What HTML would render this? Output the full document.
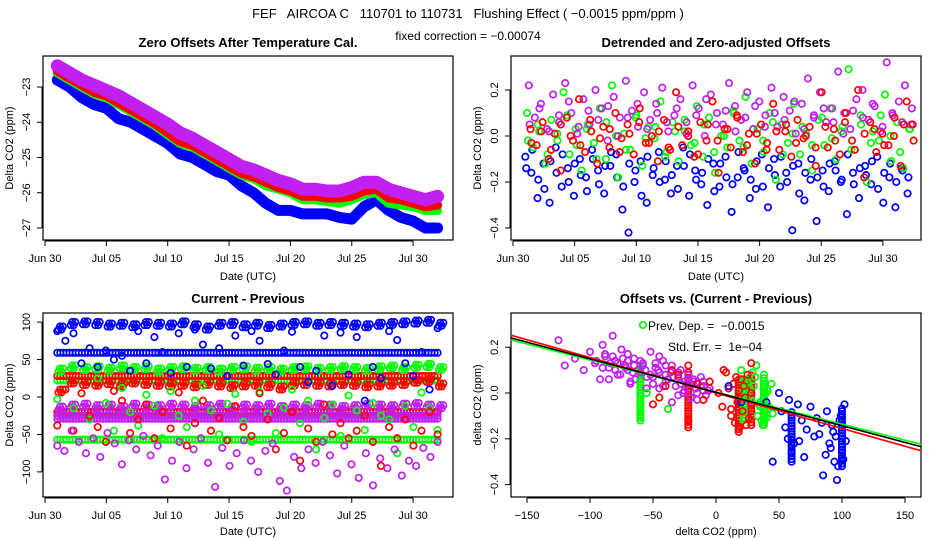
<!DOCTYPE html>
<html><head><meta charset="utf-8"><style>
body{margin:0;background:#fff;}
svg{display:block;font-family:"Liberation Sans",sans-serif;}
text{white-space:pre;}
</style></head><body>
<svg id="s" width="936" height="540" viewBox="0 0 936 540">
<rect width="936" height="540" fill="#fff"/>
<text x="468" y="18" text-anchor="middle" font-size="13">FEF   AIRCOA C   110701 to 110731   Flushing Effect ( −0.0015 ppm/ppm )</text>
<text x="468" y="40" text-anchor="middle" font-size="12">fixed correction = −0.00074</text>
<text x="248" y="47" text-anchor="middle" font-size="13" font-weight="bold">Zero Offsets After Temperature Cal.</text>
<text x="716" y="47" text-anchor="middle" font-size="13" font-weight="bold">Detrended and Zero-adjusted Offsets</text>
<text x="248" y="303" text-anchor="middle" font-size="13" font-weight="bold">Current - Previous</text>
<text x="716" y="303" text-anchor="middle" font-size="13" font-weight="bold">Offsets vs. (Current - Previous)</text>
<g id="g1"></g>
<g id="g2"></g>
<g id="g3"></g>
<g id="g4"></g>
</svg>
<script>
// ---------- data ----------
const p1Days=[1,2,3,4,5,6,7,8,9,10,11,12,13,14,15,16,17,18,19,20,21,22,23,24,25,26,27,28,29,30,31,32];
const p1Blue=[-22.8,-23.0,-23.3,-23.5,-23.6,-23.9,-24.0,-24.2,-24.4,-24.6,-24.9,-25.0,-25.2,-25.4,-25.5,-25.8,-26.0,-26.3,-26.5,-26.5,-26.6,-26.6,-26.6,-26.7,-26.75,-26.4,-26.2,-26.5,-26.7,-26.8,-27.0,-27.0];
const p1Green=[-22.6,-22.8,-23.0,-23.2,-23.3,-23.5,-23.7,-23.9,-24.1,-24.35,-24.6,-24.7,-24.9,-25.1,-25.3,-25.5,-25.6,-25.8,-25.9,-26.0,-26.2,-26.2,-26.25,-26.3,-26.2,-26.05,-26.0,-26.3,-26.35,-26.4,-26.5,-26.5];
const p1Red=[-22.55,-22.75,-22.95,-23.15,-23.25,-23.45,-23.65,-23.85,-24.05,-24.3,-24.55,-24.65,-24.85,-25.05,-25.25,-25.45,-25.55,-25.7,-25.85,-25.95,-26.1,-26.1,-26.15,-26.15,-26.1,-25.95,-25.9,-26.15,-26.2,-26.3,-26.4,-26.35];
const p1Purple=[-22.4,-22.6,-22.8,-22.95,-23.1,-23.25,-23.45,-23.65,-23.85,-24.05,-24.3,-24.45,-24.65,-24.85,-25.05,-25.25,-25.35,-25.5,-25.65,-25.75,-25.9,-25.9,-25.95,-25.95,-25.85,-25.7,-25.7,-25.9,-26.0,-26.1,-26.2,-26.1];

const p2Blue=[-0.09,-0.16,-0.27,-0.12,-0.29,-0.05,-0.22,-0.14,-0.26,-0.10,-0.18,-0.06,-0.15,-0.25,-0.13,-0.08,-0.32,-0.42,-0.20,-0.11,-0.29,-0.17,-0.07,-0.19,-0.25,-0.13,-0.05,-0.26,-0.15,-0.21,-0.30,-0.12,-0.22,-0.09,-0.33,-0.18,-0.14,-0.27,-0.23,-0.08,-0.31,-0.10,-0.22,-0.16,-0.41,-0.12,-0.28,-0.19,-0.37,-0.15,-0.24,-0.11,-0.20,-0.34,-0.16,-0.27,-0.13,-0.21,-0.09,-0.29,-0.18,-0.31,-0.14,-0.25];
const p2Blue2=[-0.14,-0.06,-0.19,-0.23,-0.11,-0.16,-0.08,-0.20,-0.12,-0.17,-0.24,-0.10,-0.21,-0.13,-0.07,-0.18,-0.22,-0.12,-0.15,-0.26,-0.09,-0.14,-0.20,-0.11,-0.17,-0.23,-0.13,-0.08,-0.19,-0.16,-0.10,-0.24,-0.12,-0.18,-0.21,-0.07,-0.15,-0.19,-0.11,-0.22,-0.14,-0.17,-0.09,-0.20,-0.13,-0.25,-0.16,-0.10,-0.18,-0.22,-0.12,-0.15,-0.19,-0.08,-0.21,-0.14,-0.17,-0.11,-0.23,-0.16,-0.12,-0.20,-0.15,-0.18];
const p2Green=[0.10,-0.05,0.02,-0.12,0.07,-0.02,0.19,-0.08,0.03,-0.15,0.05,-0.03,0.12,-0.10,0.22,-0.18,0.01,-0.06,0.09,-0.13,0.04,-0.01,0.15,-0.07,0.06,-0.11,0.02,-0.04,0.13,-0.09,0.08,-0.16,0.00,-0.05,0.11,-0.02,0.17,-0.12,0.03,-0.07,0.10,-0.19,0.05,-0.03,0.14,-0.08,0.01,-0.15,0.07,-0.04,0.12,-0.10,0.04,0.29,-0.06,0.09,-0.20,0.02,-0.02,0.18,-0.11,0.06,-0.14,0.03];
const p2Green2=[-0.02,0.05,-0.08,0.01,0.09,-0.04,0.03,-0.10,0.06,0.00,-0.06,0.08,-0.01,0.04,-0.09,0.02,0.07,-0.03,0.05,-0.07,0.00,0.10,-0.05,0.03,-0.02,0.06,-0.08,0.01,0.04,-0.04,0.08,-0.01,0.02,-0.06,0.05,-0.03,0.09,0.00,-0.07,0.03];
const p2Red=[0.03,-0.04,0.06,-0.10,0.01,-0.15,0.08,-0.02,0.16,-0.07,0.02,-0.12,0.04,-0.05,0.10,-0.01,0.05,-0.08,0.12,-0.03,0.00,-0.11,0.07,-0.06,0.19,-0.04,0.02,-0.09,0.06,-0.02,0.15,-0.16,0.03,-0.05,0.09,-0.07,0.01,-0.12,0.05,-0.03,0.14,-0.06,0.02,-0.09,0.07,-0.01,0.04,-0.13,0.19,-0.05,0.03,-0.08,0.10,-0.02,0.20,-0.18,0.06,-0.07,0.01,-0.04,0.08,-0.13,0.15,0.05];
const p2Red2=[-0.03,0.02,-0.06,0.05,0.00,-0.04,0.07,-0.01,0.03,-0.07,0.01,0.06,-0.03,0.02,-0.05,0.04,0.00,-0.08,0.05,-0.02,0.03,0.08,-0.04,0.01,-0.06,0.02,0.05,-0.03,0.00,-0.05,0.04,-0.02,0.06,-0.06,0.01,0.03,-0.04,0.00,0.05,-0.02];
const p2Purple=[0.22,0.08,0.14,0.03,0.18,0.06,0.23,0.10,0.01,0.16,0.05,0.20,0.12,-0.02,0.17,0.08,0.24,0.11,0.04,0.19,0.07,0.14,0.21,0.02,0.09,0.16,0.06,0.22,0.12,0.00,0.18,0.10,0.05,0.23,0.13,0.07,0.19,0.03,0.15,0.09,0.21,0.04,0.17,0.11,0.01,0.14,0.25,0.08,0.19,0.06,0.12,0.28,0.10,0.03,0.16,0.20,0.07,0.13,0.02,0.32,0.09,0.15,0.22,0.05];
const p2Purple2=[0.05,0.12,0.02,0.09,0.15,0.04,0.11,0.07,0.13,0.00,0.08,0.14,0.03,0.10,0.06,0.12,0.01,0.09,0.16,0.05,0.11,0.02,0.08,0.13,0.04,0.10,0.07,0.15,0.03,0.09,0.12,0.06,0.01,0.11,0.08,0.14,0.04,0.10,0.06,0.12];

const p3LineLevels=[59,22,-57,28,-20,-25,-29];
const p3LineColors=["#0000ff","#00ff00","#00ff00","#ff0000","#ff0000","#c020f0","#c020f0"];
const p3BlueDaily=[92,98,99,98,96,97,95,98,97,96,99,95,92,97,98,95,97,94,96,98,99,97,98,97,96,95,97,98,99,100,101,97];
const p3GreenDaily=[36,40,38,39,37,40,38,39,36,38,39,37,38,36,38,39,37,38,36,38,39,37,38,39,38,37,39,40,38,41,42,38];
const p3RedDaily=[8,20,18,17,19,16,20,18,17,16,17,15,18,16,14,16,17,15,12,17,18,17,16,18,17,15,16,17,18,21,22,16];
const p3PurpleDaily=[-15,-12,-11,-13,-12,-14,-11,-12,-13,-11,-12,-14,-13,-11,-15,-12,-13,-11,-14,-12,-13,-11,-12,-14,-13,-11,-12,-13,-11,-10,-12,-13];
const p3BlueScatter=[88,75,85,45,65,40,62,50,55,35,88,45,80,60,32,85,40,90,70,38,65,28,82,42,88,75,44,30,62,87,40,20,35,82,15,86,30,80,-5,40,25,88,76,45,28,60,10,92];
const p3GreenScatter=[-3,10,-15,5,-30,25,-8,-45,12,-20,-38,3,-12,-55,8,-25,-40,-5,15,-18,-50,-9,4,-33,-60,7,-22,-48,-14,10,-35,-5,-70,-28,-10,-52,2,-18,-44,-8,-25,-30,-75,-12,-40,6,-15,-44];
const p3RedScatter=[-38,10,-45,5,-25,-40,-60,8,-5,-48,-30,-10,-55,-20,-42,6,-65,-35,-5,-45,-28,-58,-12,-40,-52,5,-30,-70,-48,-20,-85,-42,-60,-10,-50,-35,-55,-45,-25,-60,-92,-40,-55,-30,-65,-45,-20,-50];
const p3PurpleScatter=[-65,-72,-45,-60,-75,-55,-80,-48,-62,-90,-58,-70,-52,-78,-65,-110,-85,-60,-95,-70,-55,-88,-120,-68,-92,-75,-58,-85,-100,-72,-62,-112,-125,-80,-95,-70,-88,-60,-78,-102,-65,-90,-108,-75,-118,-82,-95,-70,-105,-85,-92,-68,-80,-60];

const p4PurpleX=[-125,-120,-112,-105,-100,-96,-92,-90,-88,-85,-82,-80,-78,-75,-72,-70,-68,-65,-62,-60,-58,-55,-52,-50,-48,-45,-42,-40,-38,-35,-32,-30,-28,-25,-22,-20,-18,-15,-12,-10,-8,-5,-85,-75,-65,-55,-45,-35,-25,-15,-95,-70,-50,-30,-10,-40,-80,-60,-20,-30,-45,-88,-78,-72,-66,-58,-52,-46,-40,-34,-28,-22,-16,-10,-82,-76,-70,-64,-56,-48,-42,-36,-26,-18,-12,-6,-90,-84,-74,-68];
const p4PurpleY=[0.23,0.12,0.15,0.10,0.18,0.13,0.06,0.21,0.16,0.11,0.25,0.14,0.08,0.19,0.12,0.17,0.05,0.15,0.10,0.09,0.13,0.07,0.18,0.04,0.11,0.02,0.14,0.08,0.06,0.12,0.03,-0.01,0.10,0.05,0.08,-0.02,0.06,0.00,0.03,0.05,-0.01,0.02,0.06,0.19,0.12,0.02,0.16,-0.04,0.01,-0.03,0.14,0.10,0.07,0.09,0.01,0.12,0.10,0.14,0.04,0.07,0.09,0.17,0.13,0.11,0.09,0.12,0.08,0.10,0.05,0.07,0.04,0.06,0.02,0.03,0.16,0.08,0.14,0.06,0.10,0.13,0.03,0.09,0.00,0.05,0.07,0.01,0.11,0.13,0.15,0.04];
const p4GreenX=[-60,-60,-60,-55,-45,-38,25,30,35,38,42,40,33,27,22,36,44,31,39,28,24,37,41,34,29,45,32,26,38,40,20,35];
const p4GreenY=[0.05,-0.05,-0.10,0.00,-0.02,-0.07,0.05,0.03,-0.04,0.08,-0.06,0.00,-0.10,0.02,-0.01,-0.12,0.04,0.07,-0.08,-0.03,0.06,-0.14,0.01,-0.05,0.09,-0.09,0.12,-0.02,0.03,-0.11,0.10,-0.06];
const p4RedX=[-40,-30,-50,-22,-22,-10,-5,2,5,8,10,12,14,15,16,17,18,19,20,21,22,23,25,26,28,28,28,12,18,24,6,-15,-35,-45];
const p4RedY=[0.03,0.08,-0.05,0.12,-0.12,-0.03,0.05,0.00,-0.06,0.09,0.02,-0.10,0.04,-0.13,0.07,-0.04,0.01,-0.15,0.06,-0.08,0.03,-0.02,0.08,-0.11,0.13,-0.05,0.00,-0.07,-0.02,-0.14,0.10,0.04,0.10,-0.02];
const p4BlueX=[10,20,40,45,50,52,55,57,58,60,62,65,68,70,72,75,80,82,85,88,90,92,94,95,96,98,100,102,103,97,93,87,99,101,91,78,84,66];
const p4BlueY=[0.03,-0.04,-0.04,-0.30,0.00,-0.08,-0.15,-0.20,-0.03,-0.26,-0.22,-0.05,-0.12,-0.28,-0.16,-0.06,-0.11,-0.18,-0.36,-0.08,-0.22,-0.14,-0.30,-0.19,-0.38,-0.12,-0.25,-0.05,-0.21,-0.32,-0.17,-0.27,-0.10,-0.29,-0.24,-0.19,-0.13,-0.21];
const p4BarX=[100,60,-60,-22,28,18,38,22];
const p4BarLo=[-0.32,-0.30,-0.12,-0.15,-0.14,-0.17,-0.14,-0.12];
const p4BarHi=[-0.06,-0.08,0.13,0.10,0.08,0.06,0.07,0.06];
const p4BarColors=["#0000ff","#0000ff","#00ff00","#ff0000","#ff0000","#ff0000","#00ff00","#00ff00"];
const fitIntercepts=[0.004,0.000,0.003];
const fitSlopes=[-0.00140,-0.00155,-0.00146];
const fitColors=["#00ff00","#ff0000","#000000"];

const xTickDays=[0,5,10,15,20,25,30];
const xTickLabels=["Jun 30","Jul 05","Jul 10","Jul 15","Jul 20","Jul 25","Jul 30"];
const p1YTicks=[-23,-24,-25,-26,-27];
const p2YTicks=[0.2,0.0,-0.2,-0.4];
const p3YTicks=[100,50,0,-50,-100];
const p4XTicks=[-150,-100,-50,0,50,100,150];
const p4YTicks=[0.2,0.0,-0.2,-0.4];

// ---------- helpers ----------
const NS="http://www.w3.org/2000/svg";
const PURPLE="#c020f0";
function mk(g,tag,attrs){const e=document.createElementNS(NS,tag);for(const k in attrs)e.setAttribute(k,attrs[k]);g.appendChild(e);return e;}
function circ(g,cx,cy,col,name){
  const c=mk(g,"circle",{cx:cx.toFixed(1),cy:cy.toFixed(1),r:3.2,fill:"none",stroke:col,"stroke-width":1.7});
  
  
}
function txt(g,x,y,s,opt,name){
  const t=mk(g,"text",Object.assign({x:x,y:y,"font-size":11,"text-anchor":"middle"},opt||{}));
  t.textContent=s;
  
  
  return t;
}
function frame(g,x0,y0,x1,y1){
  const r=mk(g,"rect",{x:x0,y:y0,width:x1-x0,height:y1-y0,fill:"none",stroke:"#000","stroke-width":1.2});
  
  
}
function xAxis(g,ticks,labels,sx,yb,prefix){
  const l=mk(g,"line",{x1:sx(ticks[0]),x2:sx(ticks[ticks.length-1]),y1:yb+1,y2:yb+1,stroke:"#000"});
  
  
  ticks.forEach((t,i)=>{
    const tk=mk(g,"line",{x1:sx(t),x2:sx(t),y1:yb+1,y2:yb+6,stroke:"#000"});
    
    
    txt(g,sx(t),yb+22,labels[i],{},prefix+'x-tick-label');
  });
}
function yAxis(g,ticks,labels,sy,xl,prefix){
  const l=mk(g,"line",{x1:xl-1,x2:xl-1,y1:sy(ticks[0]),y2:sy(ticks[ticks.length-1]),stroke:"#000"});
  
  
  ticks.forEach((t,i)=>{
    const y=sy(t);
    const tk=mk(g,"line",{x1:xl-6,x2:xl-1,y1:y,y2:y,stroke:"#000"});
    
    
    txt(g,xl-13,y,labels[i],{transform:`rotate(-90 ${xl-13} ${y})`},prefix+'y-tick-label');
  });
}
function fmt(v){return (v<0?"−":"")+Math.abs(v).toString();}
function fmt1(v){return (v<0?"−":"")+Math.abs(v).toFixed(1);}
function even(n,i){return 1+i*31/(n-1);}

// ---------- panel 1 ----------
(function(){
  const g=document.getElementById("g1");
  const sx=d=>45+d*12.27, sy=v=>87+(-23-v)*35.25;
  frame(g,43,56,453,240);
  xAxis(g,xTickDays,xTickLabels,sx,240,"p1-");
  yAxis(g,p1YTicks,p1YTicks.map(fmt),sy,43,"p1-");
  txt(g,248,280,"Date (UTC)",{},"p1-x-axis-title");
  txt(g,13,148,"Delta CO2 (ppm)",{transform:"rotate(-90 13 148)"},"p1-y-axis-title");
  const series=[[p1Blue,"#0000ff","blue",11],[p1Green,"#00ff00","green",9],[p1Red,"#ff0000","red",9],[p1Purple,PURPLE,"purple",13]];
  series.forEach(([arr,col,nm,w])=>{
    const pts=arr.map((v,i)=>sx(p1Days[i]).toFixed(1)+","+sy(v).toFixed(1)).join(" ");
    const pl=mk(g,"polyline",{points:pts,fill:"none",stroke:col,"stroke-width":w,"stroke-linejoin":"round","stroke-linecap":"round"});
    
    
  });
})();

// ---------- panel 2 ----------
(function(){
  const g=document.getElementById("g2");
  const sx=d=>513+d*12.33, sy=v=>136-v*230;
  frame(g,511,56,921,240);
  xAxis(g,xTickDays,xTickLabels,sx,240,"p2-");
  yAxis(g,p2YTicks,p2YTicks.map(fmt1),sy,511,"p2-");
  txt(g,716,280,"Date (UTC)",{},"p2-x-axis-title");
  txt(g,481,148,"Delta CO2 (ppm)",{transform:"rotate(-90 481 148)"},"p2-y-axis-title");
  [[p2Blue,"#0000ff","blue"],[p2Blue2,"#0000ff","blue"],[p2Green,"#00ff00","green"],[p2Green2,"#00ff00","green"],[p2Purple,PURPLE,"purple"],[p2Purple2,PURPLE,"purple"],[p2Red,"#ff0000","red"],[p2Red2,"#ff0000","red"]].forEach(([arr,col,nm],k)=>{
    arr.forEach((v,i)=>circ(g,sx(even(arr.length,i)+k*0.07),sy(v),col,'p2-point-'+nm));
  });
})();

// ---------- panel 3 ----------
(function(){
  const g=document.getElementById("g3");
  const sx=d=>45+d*12.27, sy=v=>397-v*0.749;
  frame(g,43,313,453,497);
  xAxis(g,xTickDays,xTickLabels,sx,497,"p3-");
  yAxis(g,p3YTicks,p3YTicks.map(fmt),sy,43,"p3-");
  txt(g,248,535,"Date (UTC)",{},"p3-x-axis-title");
  txt(g,13,405,"Delta CO2 (ppm)",{transform:"rotate(-90 13 405)"},"p3-y-axis-title");
  p3LineLevels.forEach((lv,k)=>{
    for(let d=1;d<=32;d+=0.25) circ(g,sx(d),sy(lv),p3LineColors[k],'p3-level-point');
  });
  [[p3BlueDaily,"#0000ff","blue"],[p3GreenDaily,"#00ff00","green"],[p3RedDaily,"#ff0000","red"],[p3PurpleDaily,PURPLE,"purple"]].forEach(([arr,col,nm])=>{
    arr.forEach((v,i)=>{for(let j=0;j<4;j++) circ(g,sx(p1Days[i]+0.1+j*0.12),sy(v+(j%2?2:-2)),col,'p3-daily-point-'+nm);});
  });
  [[p3BlueScatter,"#0000ff","blue"],[p3GreenScatter,"#00ff00","green"],[p3RedScatter,"#ff0000","red"],[p3PurpleScatter,PURPLE,"purple"]].forEach(([arr,col,nm])=>{
    arr.forEach((v,i)=>circ(g,sx(even(arr.length,i)),sy(v),col,'p3-point-'+nm));
  });
})();

// ---------- panel 4 ----------
(function(){
  const g=document.getElementById("g4");
  const sx=v=>716+v*1.26, sy=v=>393-v*229;
  frame(g,511,313,921,497);
  xAxis(g,p4XTicks,p4XTicks.map(fmt),sx,497,"p4-");
  yAxis(g,p4YTicks,p4YTicks.map(fmt1),sy,511,"p4-");
  txt(g,716,535,"delta CO2 (ppm)",{},"p4-x-axis-title");
  txt(g,481,405,"delta CO2 (ppm)",{transform:"rotate(-90 481 405)"},"p4-y-axis-title");
  p4BarX.forEach((x,k)=>{
    for(let v=p4BarLo[k];v<=p4BarHi[k];v+=0.012) circ(g,sx(x),sy(v),p4BarColors[k],'p4-bar-point');
  });
  [[p4PurpleX,p4PurpleY,PURPLE,"purple"],[p4GreenX,p4GreenY,"#00ff00","green"],[p4RedX,p4RedY,"#ff0000","red"],[p4BlueX,p4BlueY,"#0000ff","blue"]].forEach(([xs,ys,col,nm])=>{
    const n=Math.min(xs.length,ys.length);
    for(let i=0;i<n;i++) circ(g,sx(xs[i]),sy(ys[i]),col,'p4-point-'+nm);
  });
  const cp=mk(g,"clipPath",{id:"c4"});mk(cp,"rect",{x:511,y:313,width:410,height:184});
  fitIntercepts.forEach((a,k)=>{
    const x0=-163,x1=163;
    const l=mk(g,"line",{x1:sx(x0),y1:sy(a+fitSlopes[k]*x0),x2:sx(x1),y2:sy(a+fitSlopes[k]*x1),stroke:fitColors[k],"stroke-width":1.6,"clip-path":"url(#c4)"});
    
    
  });
  circ(g,643,325,"#00ff00","p4-legend-marker");
  txt(g,648,330,"Prev. Dep. =  −0.0015",{"text-anchor":"start","font-size":12},"p4-legend-prev-dep");
  txt(g,668,351,"Std. Err. =  1e−04",{"text-anchor":"start","font-size":12},"p4-legend-std-err");
})();
</script>
</body></html>
